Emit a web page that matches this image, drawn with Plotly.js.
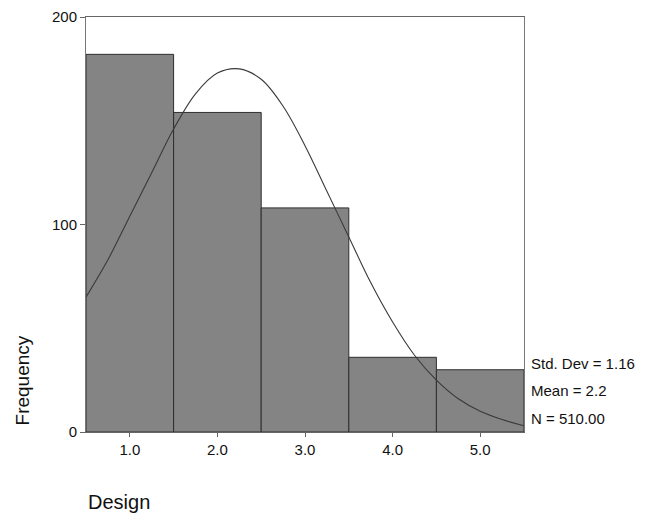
<!DOCTYPE html>
<html>
<head>
<meta charset="utf-8">
<script src="https://cdn.plot.ly/plotly-3.0.1.min.js"></script>
<style>html,body{margin:0;padding:0;background:#fff;}#chart{width:651px;height:513px;}</style>
</head>
<body>
<div id="chart"></div>
<script>
// Histogram bins (Design) and frequencies
const binCenters = [1, 2, 3, 4, 5];
const frequencies = [182, 154, 108, 36, 30];
const tickLabels = ["1.0", "2.0", "3.0", "4.0", "5.0"];
// Normal curve points
const curveX = [0.5, 0.75, 1.0, 1.25, 1.5, 1.75, 2.0, 2.25, 2.5, 2.75, 3.0, 3.25, 3.5, 3.75, 4.0, 4.25, 4.5, 4.75, 5.0, 5.25, 5.5];
const curveY = [65, 83, 104, 125, 146, 163, 173, 175, 170, 157, 138, 116, 94, 72, 53, 37, 25, 16, 10, 6, 3];
const statsLines = ["Std. Dev = 1.16", "Mean = 2.2", "N = 510.00"];

const font = "Liberation Sans, Arial, sans-serif";

const data = [
  {
    type: "bar", x: binCenters, y: frequencies, width: 1,
    marker: {color: "#848484", line: {color: "#2e2e2e", width: 1}},
    hoverinfo: "skip"
  },
  {
    type: "scatter", mode: "lines", x: curveX, y: curveY, line: {color: "#3a3a3a", width: 1.1, shape: "spline", smoothing: 1},
    hoverinfo: "skip"
  }
];

const annotations = [
  {text: "Frequency", xref: "paper", yref: "paper", x: -0.144, y: 0.124, textangle: -90, showarrow: false,
   font: {family: font, size: 19, color: "#111"}, xanchor: "center", yanchor: "middle"},
  {text: "Design", xref: "paper", yref: "paper", x: 0.0, y: -0.168, showarrow: false,
   font: {family: font, size: 20, color: "#111"}, xanchor: "left", yanchor: "middle"}
];
const statY = [0.165, 0.10, 0.032];
statsLines.forEach((t, i) => annotations.push({
  text: t, xref: "paper", yref: "paper", x: 1.012, y: statY[i], showarrow: false, xanchor: "left", yanchor: "middle",
  font: {family: font, size: 15, color: "#111"}
}));

const layout = {
  width: 651, height: 513,
  margin: {l: 86, r: 127, t: 17, b: 81, pad: 0},
  paper_bgcolor: "#fff", plot_bgcolor: "#fff",
  showlegend: false,
  bargap: 0,
  xaxis: {range: [0.5, 5.5], tickvals: binCenters, ticktext: tickLabels, ticks: "outside", ticklen: 4,
    tickcolor: "#666", showgrid: false, zeroline: false, showline: true, linecolor: "#666", linewidth: 1, mirror: true,
    tickfont: {family: font, size: 15, color: "#111"}, fixedrange: true},
  yaxis: {range: [0, 200], tickvals: [0, 100, 200], ticks: "outside", ticklen: 5, tickcolor: "#666",
    showgrid: false, zeroline: false, showline: true, linecolor: "#777", linewidth: 1, mirror: true,
    tickfont: {family: font, size: 15, color: "#111"}, fixedrange: true},
  annotations: annotations
};

Plotly.newPlot("chart", data, layout, {staticPlot: true, displayModeBar: false});
</script>
</body>
</html>
